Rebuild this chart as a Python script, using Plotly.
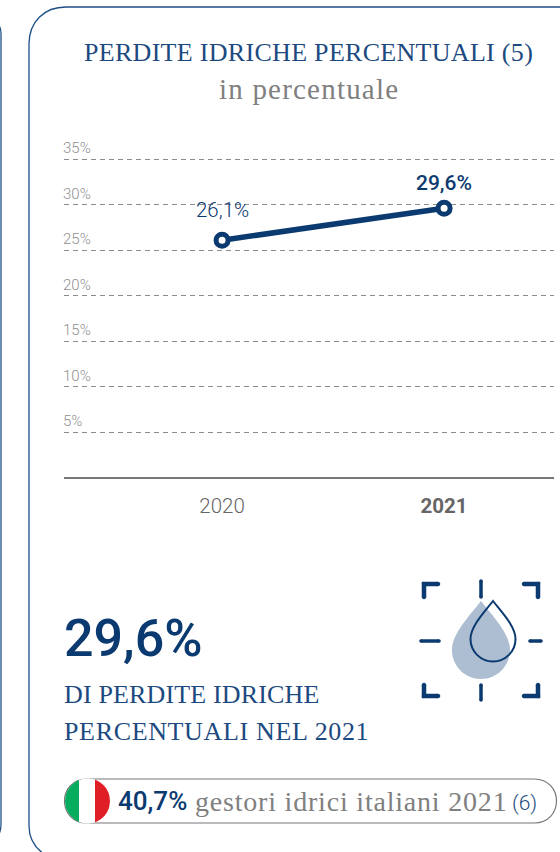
import math
import plotly.graph_objects as go

# Chart data
years = ["2020", "2021"]
losses = [26.1, 29.6]
point_labels = ["26,1%", "29,6%"]
label_lifts = [30, 25]
label_sizes = [20.5, 21]
label_weights = [300, 500]
y_ticks = [5, 10, 15, 20, 25, 30, 35]
y_tick_labels = ["5%", "10%", "15%", "20%", "25%", "30%", "35%"]

WIDTH, HEIGHT = 560, 852
NAVY = "#0b3a70"
BORDER = "#1f4f87"
GREY = "#808080"
SERIF = "Liberation Serif"
SANS = "Roboto"


def fx(x):
    return x / WIDTH


def fy(y):
    return 1 - y / HEIGHT


def pt(x, y):
    return f"{fx(x):.5f},{fy(y):.5f}"


def path_shape(d, line=None, width=0, fill=None):
    shape = dict(type="path", xref="paper", yref="paper", path=d, layer="above",
                 line=dict(color=line or "rgba(0,0,0,0)", width=width))
    if fill:
        shape["fillcolor"] = fill
    return shape


def circle_path(cx, cy, r):
    k = 0.5523 * r
    return (f"M{pt(cx + r, cy)} C{pt(cx + r, cy + k)} {pt(cx + k, cy + r)} {pt(cx, cy + r)} "
            f"C{pt(cx - k, cy + r)} {pt(cx - r, cy + k)} {pt(cx - r, cy)} "
            f"C{pt(cx - r, cy - k)} {pt(cx - k, cy - r)} {pt(cx, cy - r)} "
            f"C{pt(cx + k, cy - r)} {pt(cx + r, cy - k)} {pt(cx + r, cy)} Z")


def drop_path(cx, cy, r, apex_y):
    # Teardrop: a round belly rising to a point at apex_y
    k = 0.5523 * r
    shoulder = apex_y + (cy - apex_y) * 0.32
    return (f"M{pt(cx, apex_y)} C{pt(cx + r * 0.42, shoulder)} {pt(cx + r, cy - k)} {pt(cx + r, cy)} "
            f"C{pt(cx + r, cy + k)} {pt(cx + k, cy + r)} {pt(cx, cy + r)} "
            f"C{pt(cx - k, cy + r)} {pt(cx - r, cy + k)} {pt(cx - r, cy)} "
            f"C{pt(cx - r, cy - k)} {pt(cx - r * 0.42, shoulder)} {pt(cx, apex_y)} Z")


def stroke(points, width=4, color=NAVY):
    # Polyline with rounded ends and joints
    d = "M" + " L".join(pt(x, y) for x, y in points)
    out = [path_shape(d, line=color, width=width)]
    for x, y in points:
        out.append(path_shape(circle_path(x, y, width / 2), fill=color))
    return out


def flag_band(x0, x1, cx, cy, r, color):
    # Vertical band of the round flag, clipped to its circle
    xs = [x0 + (x1 - x0) * i / 24 for i in range(25)]
    clip = lambda x: math.sqrt(max(r * r - (x - cx) ** 2, 0))
    top = [(x, cy - clip(x)) for x in xs]
    bottom = [(x, cy + clip(x)) for x in reversed(xs)]
    return path_shape("M" + " L".join(pt(x, y) for x, y in top + bottom) + " Z", fill=color)


shapes = []

# Card outlines
shapes.append(path_shape(
    f"M{pt(562, 7)} L{pt(66, 7)} C{pt(44, 7)} {pt(29, 22)} {pt(29, 44)} "
    f"L{pt(29, 826)} C{pt(29, 838)} {pt(34, 847)} {pt(44, 854)}",
    line=BORDER, width=1.3))
shapes.append(path_shape(
    f"M{pt(-2, 24)} C{pt(0, 26)} {pt(1, 29)} {pt(1, 34)} L{pt(1, 824)} "
    f"C{pt(1, 830)} {pt(0, 833)} {pt(-2, 836)}",
    line=BORDER, width=1.3))

# Drop pictogram
shapes.append(path_shape(drop_path(481, 650, 29, 601), fill="#adbdd2"))
shapes.append(path_shape(drop_path(493, 639, 22.5, 601), line=NAVY, width=2))
shapes += stroke([(481, 581), (481, 597)], 3.5)
shapes += stroke([(481, 685), (481, 700)], 3.5)
shapes += stroke([(421, 641), (439, 641)], 3.5)
shapes += stroke([(530, 641), (541, 641)], 3.5)
shapes += stroke([(438, 584), (424, 584), (424, 597)], 4.5)
shapes += stroke([(524, 584), (538, 584), (538, 597)], 4.5)
shapes += stroke([(424, 685), (424, 696), (438, 696)], 4.5)
shapes += stroke([(538, 685), (538, 696), (524, 696)], 4.5)

# Pill with the round Italian flag
shapes.append(path_shape(
    f"M{pt(87, 779)} L{pt(534, 779)} C{pt(564, 779)} {pt(564, 823)} {pt(534, 823)} "
    f"L{pt(87, 823)} C{pt(57, 823)} {pt(57, 779)} {pt(87, 779)} Z",
    line="#777777", width=1.2, fill="#ffffff"))
shapes.append(flag_band(65, 79, 87.5, 801, 22.5, "#06ad5e"))
shapes.append(flag_band(79, 95, 87.5, 801, 22.5, "#ffffff"))
shapes.append(flag_band(95, 110, 87.5, 801, 22.5, "#e01e25"))


def spaced(s, px):
    return f'<span style="letter-spacing:{px}px">{s}</span>'


def text(x, y, s, size, color, family=SERIF, anchor="left", weight=None):
    font = dict(family=family, size=size, color=color)
    if weight:
        font["weight"] = weight
    return dict(x=fx(x), y=fy(y), xref="paper", yref="paper", text=s, showarrow=False,
                xanchor=anchor, yanchor="middle", font=font)


annotations = [
    text(308.5, 53, spaced("PERDITE IDRICHE PERCENTUALI (5)", 0.3), 26, "#1c4a80", anchor="center"),
    text(308.5, 89, spaced("in percentuale", 1.2), 29, GREY, anchor="center"),
    text(62, 638, "29,6%", 52, NAVY, SANS, weight=500),
    text(62, 694, spaced("DI PERDITE IDRICHE", 0.15), 26, "#1c4a80"),
    text(62, 731, spaced("PERCENTUALI NEL 2021", 0.65), 26, "#1c4a80"),
    text(116, 801, "40,7%", 26, NAVY, SANS, weight=500),
    text(193, 801, spaced("gestori idrici italiani 2021", 0.8), 28, GREY),
    text(510, 803, "(6)", 21, "#1c4a80", SANS, weight=300),
]

# Value-axis labels sit just above their gridlines
for tick, label in zip(y_ticks, y_tick_labels):
    annotations.append(dict(x=fx(61), y=tick, xref="paper", yref="y", text=label, showarrow=False,
                            xanchor="left", yanchor="bottom", yshift=0,
                            font=dict(family=SANS, size=15, color="#8f8f8f", weight=300)))

# Point labels follow their values on the data axes (category axes place by index)
for index, (value, label, lift, size, weight) in enumerate(zip(losses, point_labels, label_lifts,
                                                               label_sizes, label_weights)):
    annotations.append(dict(x=index, y=value, xref="x", yref="y", text=label, showarrow=False,
                            yshift=lift, font=dict(family=SANS, size=size, color=NAVY, weight=weight)))

fig = go.Figure(go.Scatter(
    x=years, y=losses, mode="lines+markers",
    line=dict(color=NAVY, width=5.5),
    marker=dict(size=12, color="#ffffff", line=dict(color=NAVY, width=5)),
    cliponaxis=False, hoverinfo="skip",
))

fig.update_layout(
    width=WIDTH, height=HEIGHT, autosize=False,
    margin=dict(l=0, r=0, t=0, b=0),
    paper_bgcolor="#ffffff", plot_bgcolor="#ffffff",
    showlegend=False, shapes=shapes, annotations=annotations,
    xaxis=dict(
        domain=[fx(64), fx(554)], type="category", range=[-0.712, 1.495],
        showgrid=False, zeroline=False, showline=False, ticks="",
        tickmode="array", tickvals=years,
        ticktext=[years[0], f"<b>{years[1]}</b>"],
        tickfont=dict(family=SANS, size=20.5, color="#666666", weight=300),
        anchor="y", ticklabelstandoff=13,
    ),
    yaxis=dict(
        domain=[fy(478), fy(150)], range=[0, 36],
        tickmode="array", tickvals=y_ticks, showticklabels=False,
        showgrid=True, gridcolor="#8c8c8c", griddash="5px,4px", gridwidth=1,
        zeroline=True, zerolinecolor="#777777", zerolinewidth=2, showline=False, ticks="",
    ),
)

fig.write_html("out.html", config=dict(displayModeBar=False))
